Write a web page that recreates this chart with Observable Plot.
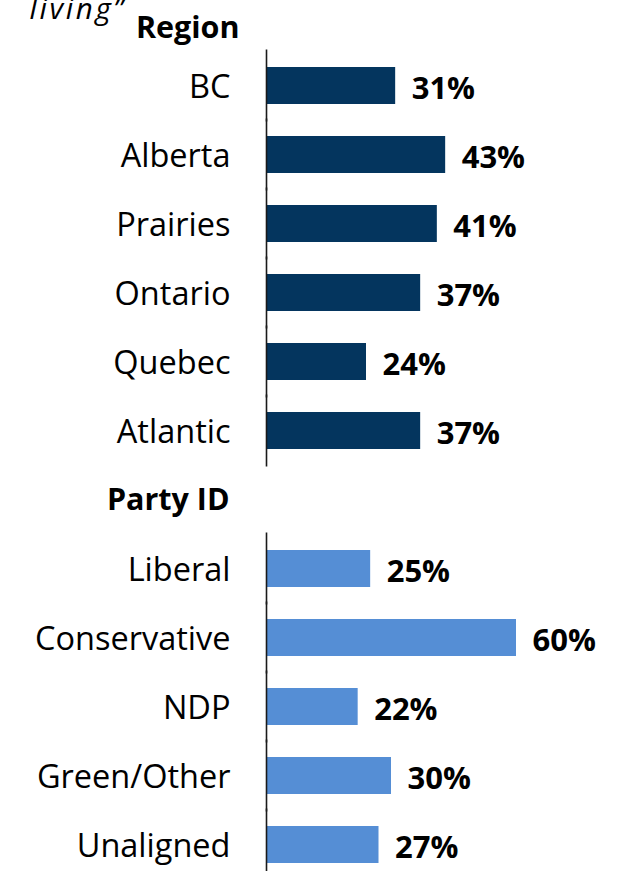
<!DOCTYPE html>
<html>
<head>
<meta charset="utf-8">
<script src="https://cdn.jsdelivr.net/npm/d3@7"></script>
<script src="https://cdn.jsdelivr.net/npm/@observablehq/plot@0.6"></script>
<style>
  html, body { margin: 0; padding: 0; background: #fff; }
  #chart svg { display: block; }
  #chart svg > g:last-of-type text { letter-spacing: 2.6px; }
</style>
</head>
<body>
<div id="chart"></div>
<script>
const regionHeader = "Region";
const regions = ["BC", "Alberta", "Prairies", "Ontario", "Quebec", "Atlantic"];
const regionValues = [31, 43, 41, 37, 24, 37];
const partyHeader = "Party ID";
const parties = ["Liberal", "Conservative", "NDP", "Green/Other", "Unaligned"];
const partyValues = [25, 60, 22, 30, 27];
const subtitleFragment = "living”";

const rows = [
  ...regions.map((c, i) => ({category: c, value: regionValues[i], group: "region"})),
  ...parties.map((c, i) => ({category: c, value: partyValues[i], group: "party"}))
];
const yDomain = [regionHeader, ...regions, partyHeader, ...parties];

const step = 69.6;
const top0 = 82 - 1.5 * step;
const font = "'Open Sans', sans-serif";

const chart = Plot.plot({
  width: 628,
  height: 871,
  marginLeft: 266,
  marginRight: 112,
  marginTop: 0,
  marginBottom: 0,
  style: {fontFamily: font, background: "#fff", overflow: "hidden"},
  x: {domain: [0, 60], axis: null},
  y: {domain: yDomain, range: [top0, top0 + yDomain.length * step], paddingInner: 0.47, paddingOuter: 0.235, axis: null},
  color: {domain: ["region", "party"], range: ["#04355E", "#558ED5"]},
  marks: [
    Plot.barX(rows, {y: "category", x: "value", fill: "group"}),
    Plot.ruleX(rows, {x: 0, y1: "category", y2: "category", stroke: "#1a1a1a", strokeWidth: 1.6, insetTop: -17.5, insetBottom: -17.5}),
    Plot.text(rows, {x: 0, y: "category", text: "category", textAnchor: "end", dx: -36, dy: 1.5, fontSize: 32.5, fill: "#000"}),
    Plot.text(rows, {x: "value", y: "category", text: d => d.value + "%", textAnchor: "start", dx: 16, dy: 3, fontSize: 31, fontWeight: "bold", fill: "#000"}),
    Plot.text([regionHeader], {x: 0, y: d => d, text: d => d, dx: -27, dy: 11, textAnchor: "end", fontSize: 30.5, fontWeight: "bold", fill: "#000"}),
    Plot.text([partyHeader], {x: 0, y: d => d, text: d => d, dx: -37, dy: 0, textAnchor: "end", fontSize: 30.5, fontWeight: "bold", fill: "#000"}),
    Plot.text([subtitleFragment], {frameAnchor: "top-left", dx: 29 - 266, dy: 18, text: d => d, fontSize: 29.5, fontStyle: "italic", fill: "#000", lineAnchor: "bottom"})
  ]
});
document.getElementById("chart").appendChild(chart);
</script>
</body>
</html>
